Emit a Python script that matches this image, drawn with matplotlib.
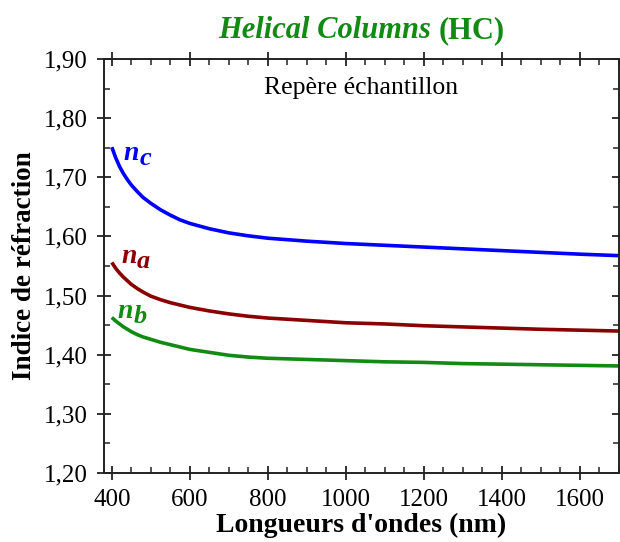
import numpy as np
import matplotlib
matplotlib.use("Agg")
import matplotlib.pyplot as plt
from matplotlib.ticker import MultipleLocator, FuncFormatter

# Data
wavelength = [400, 410, 420, 430, 440, 450, 465, 480, 500, 525, 550, 575, 600, 650, 700,
              750, 800, 900, 1000, 1100, 1200, 1300, 1400, 1500, 1600, 1700]
n_c = [1.751, 1.733, 1.718, 1.706, 1.696, 1.687, 1.676, 1.666, 1.656, 1.645, 1.636, 1.628, 1.622,
       1.613, 1.606, 1.601, 1.597, 1.592, 1.588, 1.585, 1.582, 1.579, 1.576, 1.573, 1.570, 1.5675]
n_a = [1.556, 1.546, 1.538, 1.531, 1.525, 1.519, 1.512, 1.506, 1.499, 1.493, 1.488, 1.484, 1.480,
       1.474, 1.469, 1.465, 1.462, 1.458, 1.454, 1.452, 1.449, 1.447, 1.445, 1.443, 1.4415, 1.440]
n_b = [1.463, 1.457, 1.452, 1.447, 1.443, 1.439, 1.434, 1.430, 1.426, 1.421, 1.417, 1.413, 1.409,
       1.404, 1.399, 1.396, 1.394, 1.392, 1.390, 1.388, 1.387, 1.385, 1.384, 1.383, 1.382, 1.381]

series_main = ["n", "n", "n"]
series_sub = ["c", "a", "b"]
series_colors = ["#0000ff", "#8b0000", "#138a13"]

title_italic = "Helical Columns"
title_plain = "(HC)"
inner_text = "Repère échantillon"
xlabel = "Longueurs d'ondes (nm)"
ylabel = "Indice de réfraction"

plt.rcParams["font.family"] = ["Liberation Serif", "DejaVu Serif"]

fig = plt.figure(figsize=(6.2, 5.42), dpi=100)
ax = fig.add_axes([104 / 620, 69 / 542, 515 / 620, 414 / 542])

for y, c in zip([n_c, n_a, n_b], series_colors):
    ax.plot(wavelength, y, color=c, lw=2.6, solid_capstyle="butt")

ax.set_xlim(380, 1700)
ax.set_ylim(1.20, 1.90)

ax.xaxis.set_major_locator(MultipleLocator(200))
ax.xaxis.set_minor_locator(MultipleLocator(50))
ax.yaxis.set_major_locator(MultipleLocator(0.10))
ax.yaxis.set_minor_locator(MultipleLocator(0.05))
ax.yaxis.set_major_formatter(FuncFormatter(lambda v, p: f"{v:.2f}".replace(".", ",")))

ax.tick_params(which="major", direction="inout", length=10, width=1.3,
               top=True, right=True, labelsize=18, color="#222222", pad=6.5)
ax.tick_params(which="minor", direction="in", length=4, width=1.1,
               top=True, right=True, color="#222222")
for s in ax.spines.values():
    s.set_linewidth(1.4)
    s.set_color("#222222")

ax.set_xlabel(xlabel, fontsize=20, fontweight="bold", labelpad=1)
ax.set_ylabel(ylabel, fontsize=19.5, fontweight="bold", labelpad=5)

ax.text(0.5, 0.93, inner_text, transform=ax.transAxes, ha="center", va="center", fontsize=18.5)

# series labels: n with a same-size lowered subscript letter
label_pos = [(431, 1.740), (425, 1.566), (415, 1.473)]
for (x, y), m, sub, c in zip(label_pos, series_main, series_sub, series_colors):
    ax.text(x, y, m, color=c, fontsize=20, fontweight="bold", fontstyle="italic",
            ha="left", va="center")
    ax.annotate(sub, xy=(x, y), xytext=(11.2, -3.5), textcoords="offset points",
                color=c, fontsize=19, fontweight="bold", fontstyle="italic",
                ha="left", va="center")

# title: bold italic + bold
t1 = fig.text(0, 0, title_italic + " ", fontsize=22, fontweight="bold", fontstyle="italic", color="#138a13")
t2 = fig.text(0, 0, title_plain, fontsize=22, fontweight="bold", color="#138a13")
fig.canvas.draw()
r = fig.canvas.get_renderer()
w1 = t1.get_window_extent(r).width
w2 = t2.get_window_extent(r).width
cx = (104 + 619) / 2
ty = 542 - 31
x0 = cx - (w1 + w2) / 2
t1.set_position((x0 / 620, ty / 542))
t2.set_position(((x0 + w1) / 620, ty / 542))
t1.set_va("center")
t2.set_va("center")

fig.savefig("out.png", dpi=100)
